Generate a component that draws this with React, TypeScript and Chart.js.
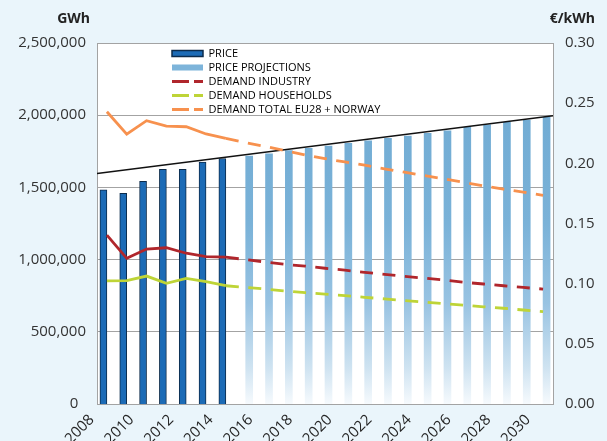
import React, { useEffect, useRef } from 'react';
import { Chart, registerables } from 'chart.js';

Chart.register(...registerables);

// ---- Data ----
const years = [
  2008, 2009, 2010, 2011, 2012, 2013, 2014, 2015, 2016, 2017, 2018, 2019,
  2020, 2021, 2022, 2023, 2024, 2025, 2026, 2027, 2028, 2029, 2030,
];
const yearTicks = [2008, 2010, 2012, 2014, 2016, 2018, 2020, 2022, 2024, 2026, 2028, 2030];
// the x range of the plot area (half a year beyond the first and last bar)
const plotRange = [2007.5, 2030.5];

// €/kWh (right axis)
const priceActual = [
  0.178, 0.175, 0.185, 0.195, 0.195, 0.201, 0.204,
  null, null, null, null, null, null, null, null, null, null, null, null, null, null, null, null,
];
const priceProjection = [
  null, null, null, null, null, null, null,
  0.206, 0.208, 0.2105, 0.2125, 0.2144, 0.2166, 0.2186, 0.2208, 0.2227, 0.225, 0.2271, 0.2299,
  0.2319, 0.2341, 0.236, 0.2383,
];
// trend line of the price, drawn across the whole plot
const trendPrice = [0.1916, 0.2396];

// GWh (left axis)
const demandIndustry = [
  1170000, 1009000, 1073000, 1082000, 1044000, 1020000, 1017000,
  1000000, 983000, 967000, 955000, 940000, 927000, 912000, 898000, 884000, 872000, 859000, 843000,
  831000, 819000, 807000, 796000,
];
const demandHouseholds = [
  852000, 854000, 886000, 836000, 870000, 847000, 819000,
  808000, 796000, 783000, 771000, 761000, 751000, 739000, 728000, 717000, 706000, 695000, 684000,
  673000, 663000, 651000, 640000,
];
const demandTotal = [
  2024000, 1868000, 1962000, 1925000, 1920000, 1870000, 1839000,
  1810000, 1783000, 1755000, 1725000, 1699000, 1676000, 1654000, 1629000, 1605000, 1582000, 1559000,
  1535000, 1510000, 1488000, 1468000, 1445000,
];
const lastActualIndex = 6; // 2014

const leftUnit = 'GWh';
const rightUnit = '€/kWh';
const legendLabels = [
  'PRICE',
  'PRICE PROJECTIONS',
  'DEMAND INDUSTRY',
  'DEMAND HOUSEHOLDS',
  'DEMAND TOTAL EU28 + NORWAY',
];

// ---- Styles ----
const BG = '#EAF5FB';
const GRID = '#A3A3A3';
const TEXT = '#333333';
const FONT = '"Open Sans", "Noto Sans", sans-serif';
const PRICE_FILL = '#1C6BB6';
const PRICE_BORDER = '#0C2B4B';
const PROJ = '#74AED6';
const RED = '#B0262C';
const GREEN = '#BED437';
const ORANGE = '#F7914E';
const DASH = [13, 9.5];

const bgPlugin = {
  id: 'bgPlugin',
  beforeDraw(chart: any) {
    const { ctx, chartArea, width, height } = chart;
    ctx.save();
    ctx.fillStyle = BG;
    ctx.fillRect(0, 0, width, height);
    ctx.fillStyle = '#FFFFFF';
    ctx.fillRect(chartArea.left, chartArea.top, chartArea.right - chartArea.left, chartArea.bottom - chartArea.top);
    ctx.restore();
  },
};

const legendShift = {
  id: 'legendShift',
  afterLayout(chart: any) {
    const l = chart.legend;
    if (!l) return;
    const w = l.width;
    const h = l.height;
    l.left = chart.chartArea.left + 72;
    l.right = l.left + w;
    l.top = chart.chartArea.top + 2;
    l.bottom = l.top + h;
  },
};

const unitsPlugin = {
  id: 'unitsPlugin',
  afterDraw(chart: any) {
    const { ctx, scales } = chart;
    ctx.save();
    ctx.font = 'bold 14px ' + FONT;
    ctx.fillStyle = '#222222';
    ctx.textBaseline = 'middle';
    ctx.textAlign = 'right';
    ctx.fillText(leftUnit, scales.y.right - 7, 19);
    ctx.fillText(rightUnit, scales.y1.right - 12, 19);
    ctx.restore();
  },
};

let gradCache: any = null;
function projFill(c: any) {
  const chart = c.chart;
  const area = chart.chartArea;
  if (!area) return PROJ;
  if (gradCache && gradCache.chart === chart && gradCache.top === area.top && gradCache.bottom === area.bottom) return gradCache.g;
  const g = chart.ctx.createLinearGradient(0, area.top, 0, area.bottom);
  g.addColorStop(0, '#6CA8D1');
  g.addColorStop(0.5, '#7AB2D8');
  g.addColorStop(0.72, '#98C3E2');
  g.addColorStop(0.9, '#CFE3F1');
  g.addColorStop(1, '#F6FAFD');
  gradCache = { chart, top: area.top, bottom: area.bottom, g };
  return g;
}

const dashAfterActual = (c: any) => (c.p0DataIndex < lastActualIndex ? [] : DASH);

export default function App() {
  const ref = useRef<HTMLCanvasElement>(null);

  useEffect(() => {
    document.body.style.margin = '0';
    const canvas = ref.current;
    if (!canvas) return;
    const lineBase = {
      type: 'line' as const,
      yAxisID: 'y',
      xAxisID: 'x',
      borderWidth: 2.8,
      pointRadius: 0,
      pointHoverRadius: 0,
      fill: false,
      tension: 0,
      borderDash: DASH,
      order: 0,
      segment: { borderDash: dashAfterActual },
    };
    const chart = new Chart(canvas, {
      type: 'bar',
      data: {
        labels: years,
        datasets: [
          { ...lineBase, label: legendLabels[4], data: demandTotal, borderColor: ORANGE },
          { ...lineBase, label: legendLabels[2], data: demandIndustry, borderColor: RED },
          { ...lineBase, label: legendLabels[3], data: demandHouseholds, borderColor: GREEN },
          {
            type: 'line',
            label: 'trend',
            data: plotRange.map((x, i) => ({ x, y: trendPrice[i] })),
            xAxisID: 'x',
            yAxisID: 'y1',
            borderColor: '#111111',
            borderWidth: 1.6,
            pointRadius: 0,
            fill: false,
            order: 0,
          },
          {
            type: 'bar',
            label: legendLabels[0],
            data: priceActual,
            xAxisID: 'x',
            yAxisID: 'y1',
            backgroundColor: PRICE_FILL,
            borderColor: PRICE_BORDER,
            borderWidth: 1,
            barThickness: 7,
            order: 1,
          },
          {
            type: 'bar',
            label: legendLabels[1],
            data: priceProjection,
            xAxisID: 'x',
            yAxisID: 'y1',
            backgroundColor: projFill,
            borderWidth: 0,
            barThickness: 7,
            order: 1,
          },
        ] as any,
      },
      options: {
        animation: false,
        responsive: true,
        maintainAspectRatio: false,
        events: [],
        layout: { padding: { top: 43, left: 0, right: 0, bottom: 0 } },
        plugins: {
          tooltip: { enabled: false },
          title: { display: false },
          legend: {
            position: 'chartArea' as any,
            align: 'start',
            labels: {
              usePointStyle: true,
              pointStyleWidth: 31,
              boxHeight: 6,
              padding: 3,
              color: '#222222',
              font: { family: FONT, size: 11 },
              generateLabels: () => [
                { text: legendLabels[0], fillStyle: PRICE_FILL, strokeStyle: PRICE_BORDER, lineWidth: 1.5, pointStyle: 'rect', hidden: false, datasetIndex: 4 },
                { text: legendLabels[1], fillStyle: '#7DB4DA', strokeStyle: '#7DB4DA', lineWidth: 0, pointStyle: 'rect', hidden: false, datasetIndex: 5 },
                { text: legendLabels[2], fillStyle: RED, strokeStyle: RED, lineWidth: 3, lineDash: [17, 5], pointStyle: 'line', hidden: false, datasetIndex: 1 },
                { text: legendLabels[3], fillStyle: GREEN, strokeStyle: GREEN, lineWidth: 3, lineDash: [17, 5], pointStyle: 'line', hidden: false, datasetIndex: 2 },
                { text: legendLabels[4], fillStyle: ORANGE, strokeStyle: ORANGE, lineWidth: 3, lineDash: [17, 5], pointStyle: 'line', hidden: false, datasetIndex: 0 },
              ] as any,
            },
          },
        },
        scales: {
          x: {
            type: 'linear',
            min: plotRange[0],
            max: plotRange[1],
            offset: false,
            grid: { display: false, drawTicks: false, offset: false },
            border: { display: true, color: GRID, width: 1 },
            afterBuildTicks: (s: any) => {
              s.ticks = yearTicks.map((v) => ({ value: v }));
            },
            ticks: {
              autoSkip: false,
              minRotation: 45,
              maxRotation: 45,
              padding: 7,
              labelOffset: -15,
              color: '#262626',
              font: { family: FONT, size: 15 },
              callback: (v: any) => String(v),
            },
            afterFit: (s: any) => {
              s.height = 37;
            },
          },
          y: {
            type: 'linear',
            position: 'left',
            min: 0,
            max: 2500000,
            grid: { color: GRID, lineWidth: 1, drawTicks: false },
            border: { display: true, color: GRID, width: 1 },
            ticks: {
              stepSize: 500000,
              padding: 11,
              color: TEXT,
              font: { family: FONT, size: 15 },
              callback: (v: any) => (Number(v) === 0 ? '0  ' : Number(v).toLocaleString('en-US')),
            },
            afterFit: (s: any) => {
              s.width = 97;
            },
          },
          y1: {
            type: 'linear',
            position: 'right',
            min: 0,
            max: 0.3,
            grid: { display: false, drawTicks: false },
            border: { display: true, color: GRID, width: 1 },
            ticks: {
              stepSize: 0.05,
              padding: 12,
              color: TEXT,
              font: { family: FONT, size: 15 },
              callback: (v: any) => Number(v).toFixed(2),
            },
            afterFit: (s: any) => {
              s.width = 54;
            },
          },
        },
      } as any,
      plugins: [bgPlugin, legendShift, unitsPlugin],
    });
    return () => chart.destroy();
  }, []);

  return (
    <div style={{ width: 607, height: 441, position: 'relative', background: BG }}>
      <canvas ref={ref} />
    </div>
  );
}
